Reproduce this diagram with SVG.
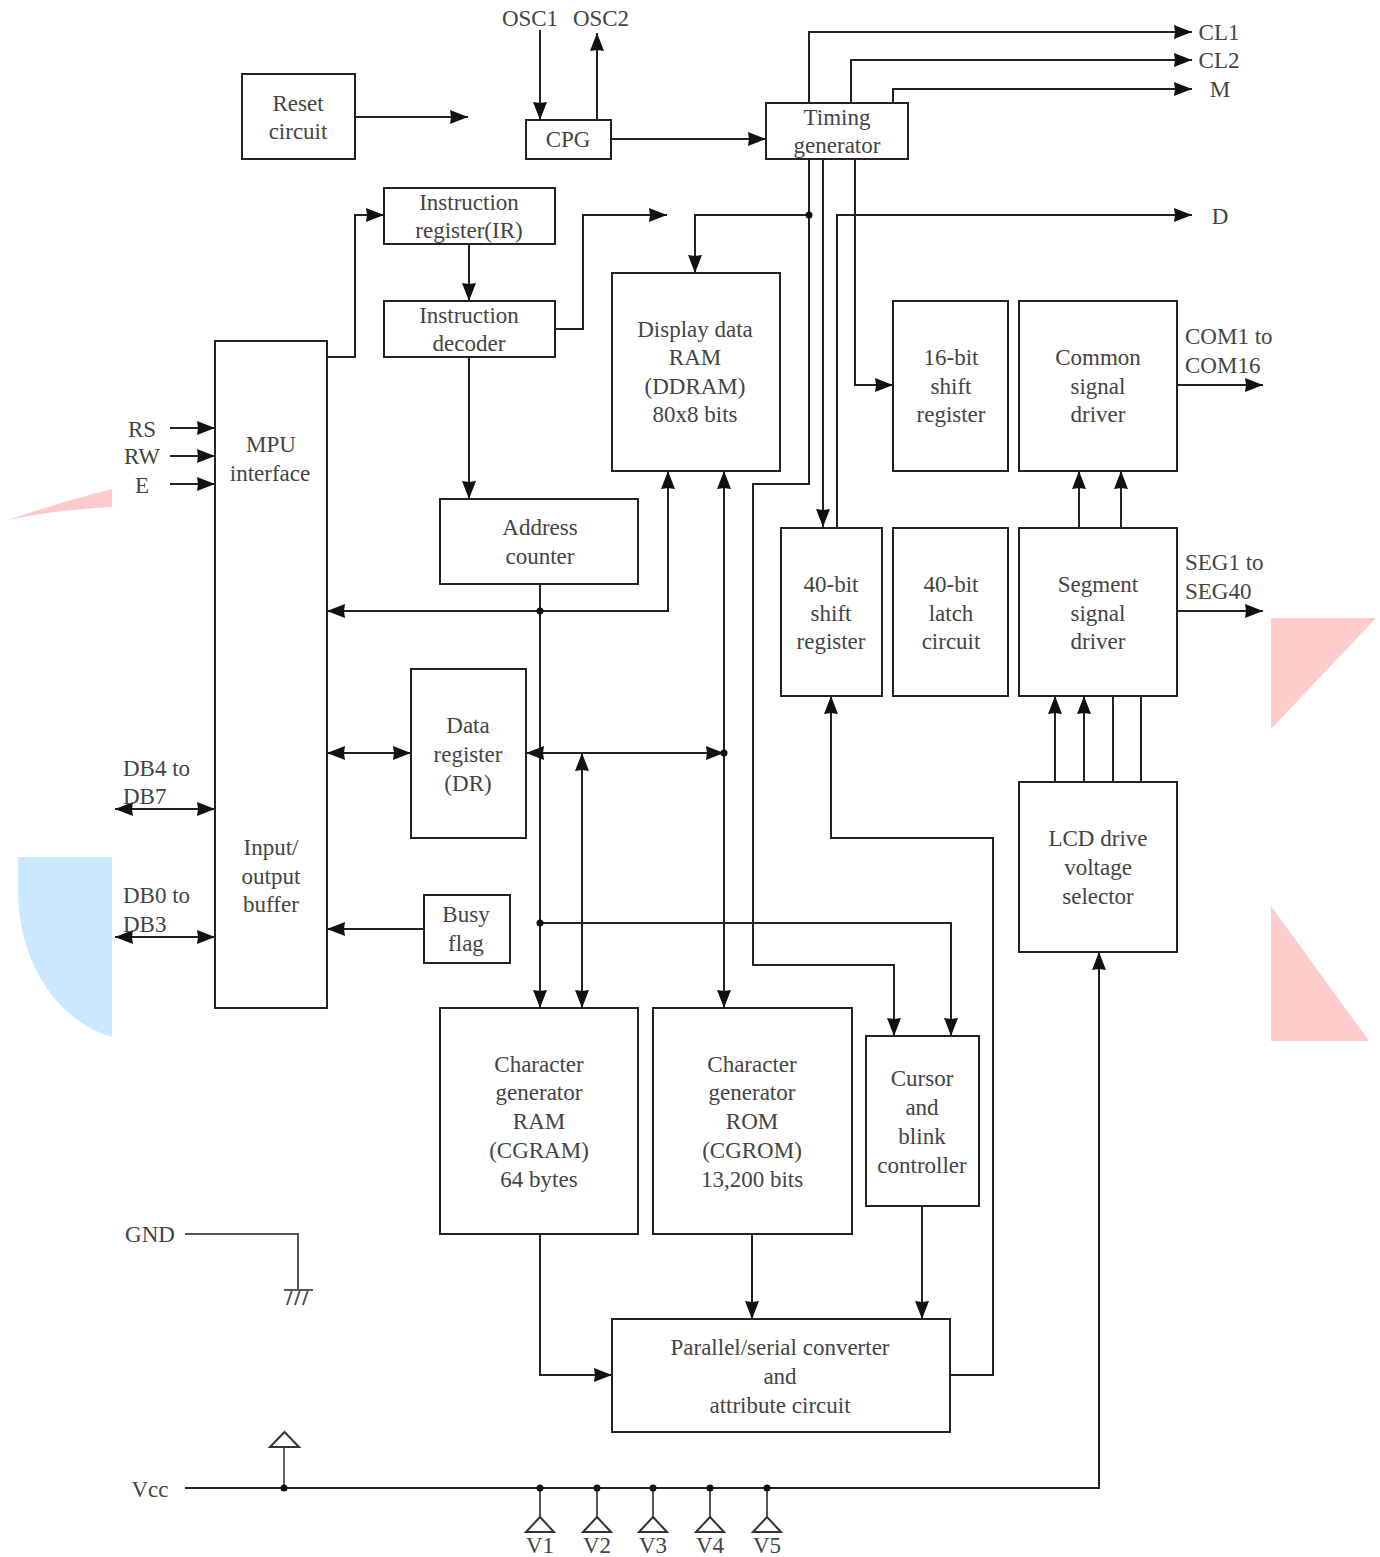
<svg xmlns="http://www.w3.org/2000/svg" width="1380" height="1557" viewBox="0 0 1380 1557">
<style>
.b{fill:#fff;stroke:#222;stroke-width:2}
text{font-family:"Liberation Serif","Times New Roman",serif;font-size:23px;fill:#444;text-anchor:middle;transform:translateY(-.5px)}
.l{text-anchor:start}
#connectors path{fill:none;stroke:#222;stroke-width:2}
#connectors marker path{stroke:none}
.a{marker-end:url(#ah)}
.d{marker-start:url(#as);marker-end:url(#ah)}
.dot{fill:#111;stroke:none}
#connectors path.t{fill:#fff;stroke:#333;stroke-width:2}
</style>
<defs>
<marker id="ah" markerUnits="userSpaceOnUse" markerWidth="20" markerHeight="16" refX="19" refY="8" orient="auto"><path d="M1 1L19 8L1 15L2 8Z" fill="#111"/></marker>
<marker id="as" markerUnits="userSpaceOnUse" markerWidth="20" markerHeight="16" refX="1" refY="8" orient="auto"><path d="M19 1L1 8L19 15L18 8Z" fill="#111"/></marker>
</defs>
<rect width="1380" height="1557" fill="#fff"/>
<g id="background-shapes">
<path d="M112 489V507Q55 510 8 520Q60 502 112 489Z" fill="#ffc9cc"/>
<path d="M18 857H112V1037C55 1020 18 960 18 890Z" fill="#cce8ff"/>
<path d="M1271 618H1376L1271 729Z" fill="#ffcccc"/>
<path d="M1271 906L1369 1041H1271Z" fill="#ffcccc"/>
</g>
<g id="connectors">
<path class="a" d="M540 30V120"/>
<path class="a" d="M597 120V33"/>
<path class="a" d="M355 117H468"/>
<path class="a" d="M611 139H766"/>
<path class="a" d="M809 103V32H1192"/>
<path class="a" d="M851 103V60H1192"/>
<path class="a" d="M893 103V89H1192"/>
<path class="a" d="M809 159V484H753V965H894V1036"/>
<path class="a" d="M809 215H695V273"/>
<path class="a" d="M823 159V527"/>
<path class="a" d="M855 159V385H893"/>
<path class="a" d="M837 528V215H1192"/>
<path class="a" d="M327 357H355V215H384"/>
<path class="a" d="M469 244V301"/>
<path class="a" d="M555 329H583V215H667"/>
<path class="a" d="M469 357V499"/>
<path class="a" d="M540 584V1008"/>
<path class="d" d="M327 611H668V471"/>
<path class="a" d="M540 923H951V1036"/>
<path class="d" d="M724 471V1008"/>
<path class="d" d="M526 753H724"/>
<path class="d" d="M582 753V1008"/>
<path class="d" d="M327 753H411"/>
<path class="a" d="M424 929H327"/>
<path class="a" d="M170 428H215"/>
<path class="a" d="M170 456H215"/>
<path class="a" d="M170 484H215"/>
<path class="d" d="M115 809H215"/>
<path class="d" d="M115 937H215"/>
<path class="a" d="M1177 385H1263"/>
<path class="a" d="M1177 611H1263"/>
<path class="a" d="M1079 528V471"/>
<path class="a" d="M1121 528V471"/>
<path class="a" d="M1055 782V696"/>
<path class="a" d="M1084 782V696"/>
<path d="M1113 782V696"/>
<path d="M1141 782V696"/>
<path class="a" d="M950 1375H993V838H831V696"/>
<path class="a" d="M752 1234V1319"/>
<path class="a" d="M922 1206V1319"/>
<path class="a" d="M540 1234V1375H612"/>
<path d="M185 1234H298V1290" style="stroke:#555"/>
<path d="M284 1290H313M287 1305L292 1290M295 1305L300 1290M303 1305L308 1290" style="stroke:#555"/>
<path class="a" d="M185 1488H1099V952"/>
<path d="M284 1488V1447" style="stroke:#666"/>
<path d="M540 1488V1520M597 1488V1520M653 1488V1520M710 1488V1520M767 1488V1520" style="stroke:#555"/>
<circle class="dot" cx="809" cy="215" r="3.500"/>
<circle class="dot" cx="540" cy="611" r="3.500"/>
<circle class="dot" cx="540" cy="923" r="3.500"/>
<circle class="dot" cx="724" cy="753" r="3.500"/>
<circle class="dot" cx="284" cy="1488" r="3.500"/>
<circle class="dot" cx="540" cy="1488" r="3.500"/>
<circle class="dot" cx="597" cy="1488" r="3.500"/>
<circle class="dot" cx="653" cy="1488" r="3.500"/>
<circle class="dot" cx="710" cy="1488" r="3.500"/>
<circle class="dot" cx="767" cy="1488" r="3.500"/>
<path class="t" d="M270 1447L284.500 1432L299 1447Z"/>
<path class="t" d="M526 1532L540 1517L554 1532Z"/>
<path class="t" d="M583 1532L597 1517L611 1532Z"/>
<path class="t" d="M639 1532L653 1517L667 1532Z"/>
<path class="t" d="M696 1532L710 1517L724 1532Z"/>
<path class="t" d="M753 1532L767 1517L781 1532Z"/>
</g>
<g id="reset"><rect class="b" x="242" y="74" width="113" height="85"/><text x="298" y="111">Reset</text><text x="298" y="139">circuit</text></g>
<g id="cpg"><rect class="b" x="526" y="120" width="85" height="39"/><text x="568" y="147">CPG</text></g>
<g id="timing"><rect class="b" x="766" y="103" width="142" height="56"/><text x="837" y="125">Timing</text><text x="837" y="153">generator</text></g>
<g id="ir"><rect class="b" x="384" y="188" width="171" height="56"/><text x="469" y="210">Instruction</text><text x="469" y="238">register(IR)</text></g>
<g id="id"><rect class="b" x="384" y="301" width="171" height="56"/><text x="469" y="323">Instruction</text><text x="469" y="351">decoder</text></g>
<g id="mpu"><rect class="b" x="215" y="341" width="112" height="667"/><text x="271" y="452">MPU</text><text x="270" y="481">interface</text><text x="271" y="855">Input/</text><text x="271" y="884">output</text><text x="271" y="912">buffer</text></g>
<g id="ddram"><rect class="b" x="612" y="273" width="168" height="198"/><text x="695" y="337">Display data</text><text x="695" y="365">RAM</text><text x="695" y="394">(DDRAM)</text><text x="695" y="422">80x8 bits</text></g>
<g id="shift16"><rect class="b" x="893" y="301" width="115" height="170"/><text x="951" y="365">16-bit</text><text x="951" y="394">shift</text><text x="951" y="422">register</text></g>
<g id="common"><rect class="b" x="1019" y="301" width="158" height="170"/><text x="1098" y="365">Common</text><text x="1098" y="394">signal</text><text x="1098" y="422">driver</text></g>
<g id="shift40"><rect class="b" x="781" y="528" width="101" height="168"/><text x="831" y="592">40-bit</text><text x="831" y="621">shift</text><text x="831" y="649">register</text></g>
<g id="latch40"><rect class="b" x="893" y="528" width="115" height="168"/><text x="951" y="592">40-bit</text><text x="951" y="621">latch</text><text x="951" y="649">circuit</text></g>
<g id="segment"><rect class="b" x="1019" y="528" width="158" height="168"/><text x="1098" y="592">Segment</text><text x="1098" y="621">signal</text><text x="1098" y="649">driver</text></g>
<g id="address"><rect class="b" x="440" y="499" width="198" height="85"/><text x="540" y="535">Address</text><text x="540" y="564">counter</text></g>
<g id="dr"><rect class="b" x="411" y="669" width="115" height="169"/><text x="468" y="733">Data</text><text x="468" y="762">register</text><text x="468" y="791">(DR)</text></g>
<g id="busy"><rect class="b" x="424" y="895" width="86" height="68"/><text x="466" y="922">Busy</text><text x="466" y="951">flag</text></g>
<g id="cgram"><rect class="b" x="440" y="1008" width="198" height="226"/><text x="539" y="1072">Character</text><text x="539" y="1100">generator</text><text x="539" y="1129">RAM</text><text x="539" y="1158">(CGRAM)</text><text x="539" y="1187">64 bytes</text></g>
<g id="cgrom"><rect class="b" x="653" y="1008" width="199" height="226"/><text x="752" y="1072">Character</text><text x="752" y="1100">generator</text><text x="752" y="1129">ROM</text><text x="752" y="1158">(CGROM)</text><text x="752" y="1187">13,200 bits</text></g>
<g id="cursor"><rect class="b" x="866" y="1036" width="113" height="170"/><text x="922" y="1086">Cursor</text><text x="922" y="1115">and</text><text x="922" y="1144">blink</text><text x="922" y="1173">controller</text></g>
<g id="lcd"><rect class="b" x="1019" y="782" width="158" height="170"/><text x="1098" y="846">LCD drive</text><text x="1098" y="875">voltage</text><text x="1098" y="904">selector</text></g>
<g id="parallel"><rect class="b" x="612" y="1319" width="338" height="113"/><text x="780" y="1355">Parallel/serial converter</text><text x="780" y="1384">and</text><text x="780" y="1413">attribute circuit</text></g>
<g id="labels">
<text x="530" y="26">OSC1</text><text x="601" y="26">OSC2</text>
<text x="1219" y="40">CL1</text><text x="1219" y="68">CL2</text><text x="1220" y="97">M</text><text x="1220" y="224">D</text>
<text class="l" x="1185" y="344">COM1 to</text><text class="l" x="1185" y="373">COM16</text>
<text class="l" x="1185" y="570">SEG1 to</text><text class="l" x="1185" y="599">SEG40</text>
<text x="142" y="437">RS</text><text x="142" y="464">RW</text><text x="142" y="493">E</text>
<text class="l" x="123" y="776">DB4 to</text><text class="l" x="123" y="804">DB7</text>
<text class="l" x="123" y="903">DB0 to</text><text class="l" x="123" y="932">DB3</text>
<text x="150" y="1242">GND</text><text x="150" y="1497">Vcc</text>
<text x="540" y="1553">V1</text><text x="597" y="1553">V2</text><text x="653" y="1553">V3</text><text x="710" y="1553">V4</text><text x="767" y="1553">V5</text>
</g>
</svg>
